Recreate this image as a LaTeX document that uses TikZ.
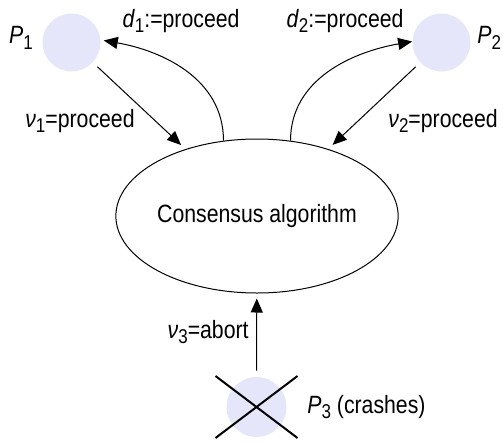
\documentclass[tikz,border=0pt]{standalone}
\usepackage{fontspec}
\setmainfont{Liberation Sans}[FakeStretch=0.85]
\usetikzlibrary{arrows.meta,shapes.geometric}

\definecolor{lavanda}{RGB}{230,230,250}
\newcommand{\pedice}[1]{\raisebox{-0.4ex}{\fontsize{10}{10}\selectfont #1}}

\tikzset{
  processo/.style={circle, fill=lavanda, minimum size=29pt, inner sep=0pt},
  freccia/.style={-{Triangle[length=7pt,width=6pt]}, line width=0.5pt},
  etichetta/.style={font=\fontsize{12.5}{15}\selectfont, inner sep=0pt},
}

\begin{document}
\begin{tikzpicture}[x=0.5pt, y=0.5pt]
\useasboundingbox (0,0) rectangle (503,441);

% Processi
\node[processo] (P1) at (71.5,398.5) {};
\node[processo] (P2) at (441.5,398.5) {};
\node[processo, minimum size=30pt] (P3) at (256.5,34) {};
\node[etichetta] (nomeP1) at (21,403) {\textit{P}\pedice{1}};
\node[etichetta, anchor=west] (nomeP2) at (477,403) {\textit{P}\pedice{2}};
\node[etichetta, anchor=west] (nomeP3) at (307,34) {\textit{P}\pedice{3} (crashes)};

% Algoritmo di consenso
\node[ellipse, draw, line width=0.5pt, minimum width=116pt, minimum height=77pt, etichetta] (alg) at (257,225) {Consensus algorithm};

% P3 si blocca
\draw[line width=1pt] (P3) ++(-41,31) -- ++(82,-62);
\draw[line width=1pt] (P3) ++(41,31) -- ++(-82,-62);

% Valori proposti
\draw[freccia, shorten <=3pt, shorten >=3pt] (P1) -- (alg);
\draw[freccia, shorten <=3pt, shorten >=3pt] (P2) -- (alg);
\draw[freccia, shorten <=3pt, shorten >=2.5pt] (P3) -- (alg);
\node[etichetta, anchor=east] (v1) at (135,320) {\textit{ν}\pedice{1}=proceed};
\node[etichetta, anchor=west] (v2) at (388,320) {\textit{ν}\pedice{2}=proceed};
\node[etichetta, anchor=east] (v3) at (249,109) {\textit{ν}\pedice{3}=abort};

% Decisioni
\draw[freccia, shorten >=1.5pt] (alg.114) to[out=90, in=-10] (P1.5);
\draw[freccia] (alg.66) to[out=90, in=190] (P2.178);
\node[etichetta] (d1) at (181,420) {\textit{d}\pedice{1}:=proceed};
\node[etichetta] (d2) at (345,420) {\textit{d}\pedice{2}:=proceed};

\end{tikzpicture}
\end{document}
